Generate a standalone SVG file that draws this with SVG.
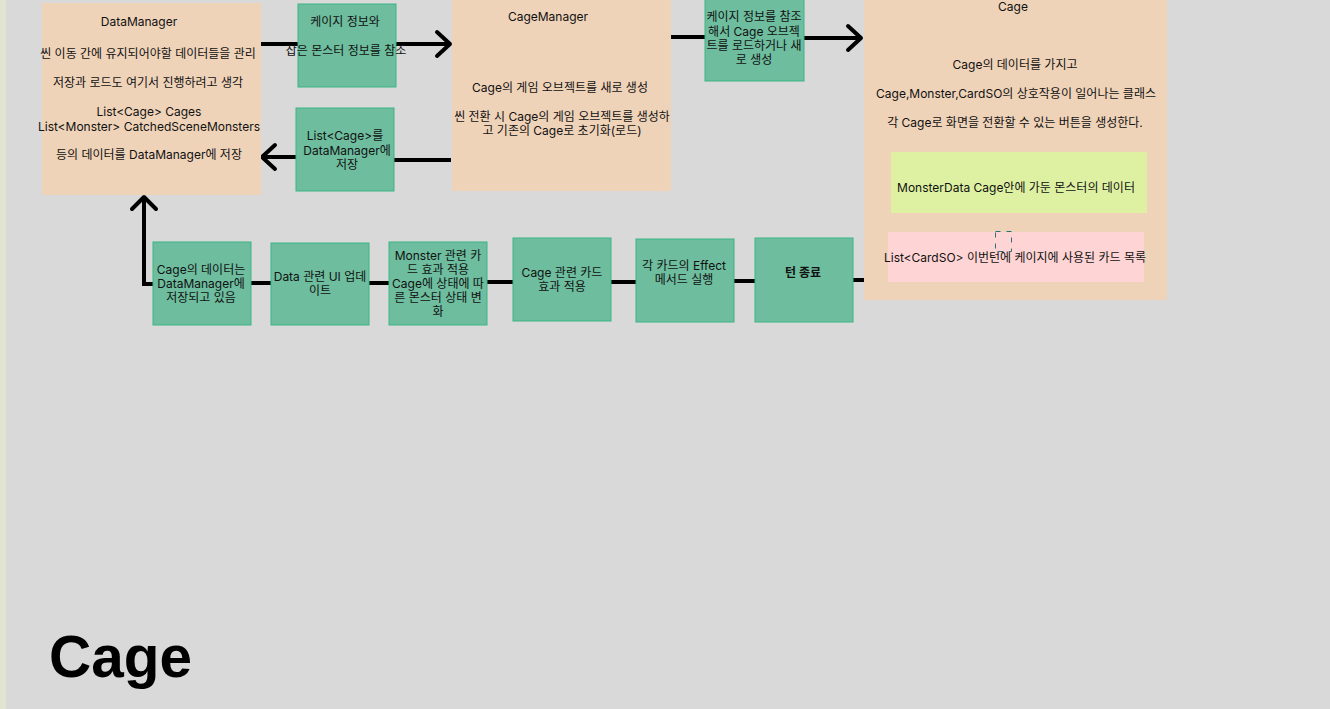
<svg xmlns="http://www.w3.org/2000/svg" width="1330" height="709" viewBox="0 0 1330 709">
<style>
text{font-family:Inter,"Noto Sans CJK KR","Noto Sans",sans-serif;font-size:12px;fill:#111;text-anchor:middle}
.peach{fill:#efd3b9}
.green{fill:#6dbd9e;stroke:#3db585;stroke-width:1}
.ln{fill:none;stroke:#000;stroke-width:4;stroke-linejoin:miter}
.ah{fill:none;stroke:#000;stroke-width:4;stroke-linecap:round;stroke-linejoin:round}
.title{font-family:"Liberation Sans",Arial,sans-serif;font-size:58.5px;font-weight:bold;text-anchor:start;fill:#000}
</style>
<rect x="0" y="0" width="1330" height="709" fill="#d9d9d9"/>
<rect x="0" y="0" width="6" height="709" fill="#e1e4d0"/>
<g id="connectors">
<line class="ln" x1="261" y1="44" x2="449" y2="44"/>
<polyline class="ah" points="437,32 450,44 437,56"/>
<line class="ln" x1="451" y1="160" x2="394" y2="160"/>
<line class="ln" x1="296" y1="157" x2="263" y2="157"/>
<polyline class="ah" points="275,145 262,157 275,169"/>
<line class="ln" x1="671" y1="37" x2="705" y2="37"/>
<line class="ln" x1="803" y1="38" x2="860" y2="38"/>
<polyline class="ah" points="848,26 861,38 848,50"/>
<polyline class="ln" points="864,280 853,280"/>
<polyline class="ln" points="755,281 733,281"/>
<polyline class="ln" points="636,282 610,282"/>
<polyline class="ln" points="513,282 487,282"/>
<polyline class="ln" points="390,283 368,283"/>
<polyline class="ln" points="271,283 250,283"/>
<polyline class="ln" points="153,284 144,284 144,198"/>
<polyline class="ah" points="132,209 144,197 156,209"/>
</g>
<g id="datamanager">
<rect class="peach" x="42" y="3" width="219" height="192"/>
<text x="139" y="26">DataManager</text>
<text x="148" y="58">씬 이동 간에 유지되어야할 데이터들을 관리</text>
<text x="148" y="87">저장과 로드도 여기서 진행하려고 생각</text>
<text x="149" y="116">List&lt;Cage&gt; Cages</text>
<text x="149" y="131">List&lt;Monster&gt; CatchedSceneMonsters</text>
<text x="149" y="159">등의 데이터를 DataManager에 저장</text>
</g>
<g id="ref-info">
<rect class="green" x="298" y="4" width="98" height="83"/>
<text x="345" y="26">케이지 정보와</text>
<text x="346" y="55">잡은 몬스터 정보를 참조</text>
</g>
<g id="save-list">
<rect class="green" x="296" y="108" width="98" height="83"/>
<text x="345" y="140">List&lt;Cage&gt;를</text>
<text x="347" y="155">DataManager에</text>
<text x="347" y="169">저장</text>
</g>
<g id="cagemanager">
<rect class="peach" x="452" y="0" width="219" height="191"/>
<text x="548" y="21">CageManager</text>
<text x="560" y="92">Cage의 게임 오브젝트를 새로 생성</text>
<text x="562" y="121">씬 전환 시 Cage의 게임 오브젝트를 생성하</text>
<text x="562" y="135">고 기존의 Cage로 초기화(로드)</text>
</g>
<g id="load-cage">
<rect class="green" x="705" y="-1" width="99" height="82"/>
<text x="754" y="21">케이지 정보를 참조</text>
<text x="754" y="36">해서 Cage 오브젝</text>
<text x="754" y="50">트를 로드하거나 새</text>
<text x="754" y="64">로 생성</text>
</g>
<g id="cage">
<rect class="peach" x="864" y="0" width="303" height="300"/>
<text x="1013" y="11">Cage</text>
<text x="1015" y="69">Cage의 데이터를 가지고</text>
<text x="1016" y="98">Cage,Monster,CardSO의 상호작용이 일어나는 클래스</text>
<text x="1015" y="127">각 Cage로 화면을 전환할 수 있는 버튼을 생성한다.</text>
<g id="monsterdata">
<rect x="891" y="152" width="256" height="61" fill="#def1a3"/>
<text x="1016" y="192">MonsterData Cage안에 가둔 몬스터의 데이터</text>
</g>
<g id="cardlist">
<rect x="888" y="232" width="256" height="50" fill="#ffd4d4"/>
<text x="1015" y="262">List&lt;CardSO&gt; 이번턴에 케이지에 사용된 카드 목록</text>
</g>
<rect x="995.5" y="231.5" width="16" height="20" fill="none" stroke="#2c6e7a" stroke-width="1" stroke-dasharray="5 6"/>
</g>
<g id="saved">
<rect class="green" x="153" y="242" width="98" height="83"/>
<text x="201" y="274">Cage의 데이터는</text>
<text x="201" y="288">DataManager에</text>
<text x="201" y="302">저장되고 있음</text>
</g>
<g id="ui-update">
<rect class="green" x="271" y="243" width="98" height="82"/>
<text x="320" y="281">Data 관련 UI 업데</text>
<text x="320" y="295">이트</text>
</g>
<g id="monster-effect">
<rect class="green" x="389" y="242" width="98" height="83"/>
<text x="438" y="260">Monster 관련 카</text>
<text x="438" y="274">드 효과 적용</text>
<text x="438" y="288">Cage에 상태에 따</text>
<text x="438" y="302">른 몬스터 상태 변</text>
<text x="438" y="316">화</text>
</g>
<g id="cage-effect">
<rect class="green" x="513" y="238" width="98" height="83"/>
<text x="562" y="277">Cage 관련 카드</text>
<text x="562" y="291">효과 적용</text>
</g>
<g id="effect-method">
<rect class="green" x="636" y="239" width="98" height="83"/>
<text x="684" y="270">각 카드의 Effect</text>
<text x="684" y="284">메서드 실행</text>
</g>
<g id="turn-end">
<rect class="green" x="755" y="238" width="98" height="84"/>
<text x="803" y="277" font-weight="bold">턴 종료</text>
</g>
<text class="title" x="49" y="677">Cage</text>
</svg>
